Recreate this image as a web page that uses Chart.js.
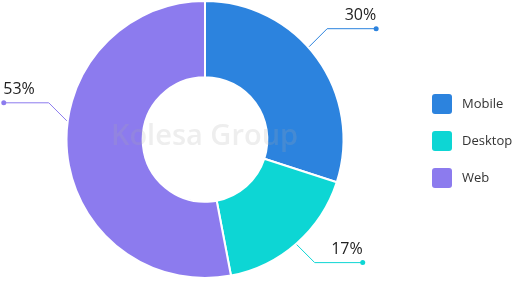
<!DOCTYPE html>
<html lang="en">
<head>
  <meta charset="UTF-8" />
  <title>Traffic by platform</title>
  <script src="https://cdn.jsdelivr.net/npm/chart.js"></script>
  <style>
    html, body { margin: 0; padding: 0; background: #fff; }
    #wrap { position: relative; width: 518px; height: 281px; }
  </style>
</head>
<body>
  <div id="wrap"><canvas id="pie"></canvas></div>

  <script>
    const platforms = ['Mobile', 'Desktop', 'Web'];
    const shares = [30, 17, 53];
    const colors = ['#2c83de', '#0dd6d4', '#8c7bee'];
    // where each callout leaves the ring (degrees, canvas coords) and its tail length
    const calloutAngles = [-41.7, 48.9, 187.7];
    const calloutTails = [49, 48, 45];

    const fontFam = '"Open Sans", "Noto Sans", sans-serif';

    const extras = {
      id: 'extras',
      afterDatasetsDraw(chart) {
        const c = chart.ctx;
        const arcs = chart.getDatasetMeta(0).data;

        // watermark
        c.save();
        c.font = '600 29px ' + fontFam;
        c.fillStyle = 'rgba(170,170,170,0.2)';
        c.textAlign = 'center';
        c.textBaseline = 'middle';
        c.fillText('Kolesa Group', arcs[0].x - 0.5, arcs[0].y - 3);
        c.restore();

        // callouts
        arcs.forEach((arc, i) => {
          const a = calloutAngles[i] * Math.PI / 180;
          const r = arc.outerRadius + 1;
          const x0 = arc.x + Math.cos(a) * r;
          const y0 = arc.y + Math.sin(a) * r;
          const sx = Math.cos(a) >= 0 ? 1 : -1;
          const sy = Math.sin(a) >= 0 ? 1 : -1;
          const x1 = x0 + sx * 18;
          const y1 = y0 + sy * 18;
          const x2 = x1 + sx * calloutTails[i];
          c.save();
          c.strokeStyle = colors[i];
          c.fillStyle = colors[i];
          c.lineWidth = 1;
          c.beginPath();
          c.moveTo(x0, y0);
          c.lineTo(x1, y1);
          c.lineTo(x2, y1);
          c.stroke();
          c.beginPath();
          c.arc(x2, y1, 2.5, 0, Math.PI * 2);
          c.fill();
          c.fillStyle = '#222';
          c.font = '16px ' + fontFam;
          c.textAlign = sx > 0 ? 'right' : 'left';
          c.textBaseline = 'alphabetic';
          c.fillText(shares[i] + '%', x2 + (sx > 0 ? 0 : -0.5), y1 - 9);
          c.restore();
        });

        // legend
        platforms.forEach((name, i) => {
          const y = 94 + i * 37;
          c.save();
          c.fillStyle = colors[i];
          c.beginPath();
          c.roundRect(432, y, 20, 20, 3);
          c.fill();
          c.fillStyle = '#333';
          c.font = '13px ' + fontFam;
          c.textBaseline = 'middle';
          c.fillText(name, 462, y + 10);
          c.restore();
        });
      }
    };

    new Chart(document.getElementById('pie'), {
      type: 'doughnut',
      data: {
        labels: platforms,
        datasets: [{
          data: shares,
          backgroundColor: colors,
          borderColor: '#fff',
          borderWidth: 2
        }]
      },
      options: {
        responsive: true,
        maintainAspectRatio: false,
        animation: false,
        cutout: '45%',
        layout: { padding: { left: 65, right: 173, top: 0, bottom: 2 } },
        plugins: {
          legend: { display: false },
          tooltip: { enabled: false }
        }
      },
      plugins: [extras]
    });
  </script>
</body>
</html>
